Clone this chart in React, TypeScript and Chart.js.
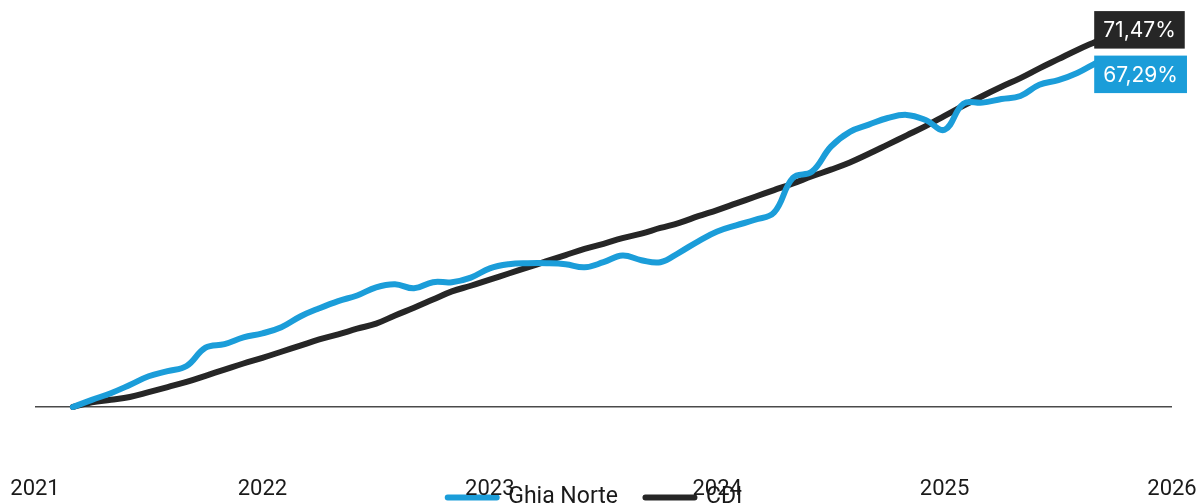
import React, { useEffect, useRef } from "react";
import { Chart, registerables } from "chart.js";

Chart.register(...registerables);

// Month-end dates of each observation
const months = [
  "2021-02", "2021-03", "2021-04", "2021-05", "2021-06", "2021-07", "2021-08", "2021-09", "2021-10", "2021-11", "2021-12",
  "2022-01", "2022-02", "2022-03", "2022-04", "2022-05", "2022-06", "2022-07", "2022-08", "2022-09", "2022-10", "2022-11", "2022-12",
  "2023-01", "2023-02", "2023-03", "2023-04", "2023-05", "2023-06", "2023-07", "2023-08", "2023-09", "2023-10", "2023-11", "2023-12",
  "2024-01", "2024-02", "2024-03", "2024-04", "2024-05", "2024-06", "2024-07", "2024-08", "2024-09", "2024-10", "2024-11", "2024-12",
  "2025-01", "2025-02", "2025-03", "2025-04", "2025-05", "2025-06", "2025-07", "2025-08",
];

// Cumulative return, %
const ghiaNorte = [
  0.0, 1.4, 2.7, 4.3, 6.0, 7.0, 8.0, 11.6, 12.3, 13.6, 14.4,
  15.6, 17.7, 19.3, 20.7, 21.8, 23.4, 24.0, 23.2, 24.4, 24.4, 25.3, 27.1,
  27.9, 28.1, 28.1, 27.9, 27.3, 28.3, 29.6, 28.7, 28.3, 30.2, 32.4, 34.3,
  35.5, 36.6, 38.0, 44.8, 46.0, 50.9, 53.8, 55.2, 56.5, 57.1, 56.1, 54.2,
  59.3, 59.5, 60.2, 60.8, 63.0, 63.9, 65.3, 67.29,
];

const cdi = [
  0.0, 0.9, 1.4, 1.95, 2.9, 3.9, 4.9, 6.1, 7.3, 8.5, 9.6,
  10.8, 12.0, 13.2, 14.2, 15.3, 16.3, 17.9, 19.4, 21.0, 22.6, 23.7, 24.9,
  26.1, 27.3, 28.5, 29.7, 30.9, 31.9, 33.0, 33.9, 35.0, 36.0, 37.3, 38.5,
  39.8, 41.1, 42.4, 43.7, 45.1, 46.4, 47.8, 49.5, 51.3, 53.1, 54.9, 56.9,
  58.9, 60.8, 62.6, 64.3, 66.2, 68.0, 69.8, 71.47,
];

const yearTicks = ["2021", "2022", "2023", "2024", "2025", "2026"];
const seriesNames = ["Ghia Norte", "CDI"];
const seriesColors = ["#1b9dd9", "#262626"];

function monthIndex(m: string): number {
  const [y, mo] = m.split("-").map(Number);
  return (y - 2021) * 12 + mo;
}

const endLabels = {
  id: "endLabels",
  afterDatasetsDraw(chart: any) {
    const ctx = chart.ctx as CanvasRenderingContext2D;
    ctx.save();
    ctx.font = "21px Inter";
    const items = chart.data.datasets.map((ds: any, i: number) => {
      const meta = chart.getDatasetMeta(i);
      const pt = meta.data[meta.data.length - 1];
      const v = ds.data[ds.data.length - 1].y as number;
      const text = v.toFixed(2).replace(".", ",") + "%";
      return { x: pt.x, cy: pt.y, text, color: ds.borderColor };
    });
    items.sort((a: any, b: any) => a.cy - b.cy);
    const h = 37.5;
    const gap = 7;
    for (let i = 1; i < items.length; i++) {
      const a = items[i - 1];
      const b = items[i];
      if (b.cy - a.cy < h + gap) {
        const mid = (a.cy + b.cy) / 2;
        a.cy = mid - (h + gap) / 2;
        b.cy = mid + (h + gap) / 2;
      }
    }
    for (const it of items) {
      const w = ctx.measureText(it.text).width + 18;
      const left = it.x - 2;
      ctx.fillStyle = it.color;
      ctx.fillRect(left, it.cy - h / 2, w, h);
      ctx.fillStyle = "#ffffff";
      ctx.textAlign = "center";
      ctx.textBaseline = "middle";
      ctx.fillText(it.text, left + w / 2, it.cy + 1);
    }
    ctx.restore();
  },
};

// Nudges the legend row a little to the left, as in the reference
const legendShift = {
  id: "legendShift",
  afterLayout(chart: any) {
    const l = chart.legend;
    if (l) {
      l.left -= 8.5;
      l.right -= 8.5;
    }
  },
};

export default function App() {
  const canvasRef = useRef<HTMLCanvasElement | null>(null);

  useEffect(() => {
    if (!canvasRef.current) return;
    Chart.defaults.font.family = "Roboto";
    Chart.defaults.color = "#1a1a1a";
    const series = [ghiaNorte, cdi];
    const chart = new Chart(canvasRef.current, {
      type: "line",
      data: {
        datasets: series.map((vals, i) => ({
          label: seriesNames[i],
          data: vals.map((v, k) => ({ x: monthIndex(months[k]), y: v })),
          borderColor: seriesColors[i],
          backgroundColor: seriesColors[i],
          borderWidth: 6,
          borderCapStyle: "round" as const,
          borderJoinStyle: "round" as const,
          pointRadius: 0,
          pointHoverRadius: 0,
          tension: 0.4,
          fill: false,
        })),
      },
      options: {
        responsive: false,
        animation: false,
        devicePixelRatio: 1,
        layout: { padding: { left: 27, right: 30, top: 0, bottom: 0 } },
        plugins: {
          legend: {
            position: "bottom",
            labels: {
              font: { family: "Roboto", size: 23 },
              color: "#1a1a1a",
              boxWidth: 49,
              boxHeight: 0,
              padding: 27.5,
            },
          },
          tooltip: { enabled: false },
        },
        scales: {
          x: {
            type: "linear",
            min: 0,
            max: 60,
            grid: { display: false },
            border: { display: false },
            ticks: {
              stepSize: 12,
              mirror: true,
              padding: -44.2,
              autoSkip: false,
              maxRotation: 0,
              font: { family: "Roboto", size: 22 },
              color: "#1a1a1a",
              callback: (v: any) => yearTicks[Math.round(Number(v) / 12)] ?? "",
            },
            afterFit: (s: any) => {
              s.height = 0;
            },
          },
          y: {
            min: -10.07,
            max: 78,
            border: { display: false },
            grid: {
              drawTicks: false,
              lineWidth: 1.5,
              color: (c: any) => (c.tick && c.tick.value === 0 ? "#4a4a4a" : "rgba(0,0,0,0)"),
            },
            ticks: { display: false, stepSize: 10 },
          },
        },
      },
      plugins: [endLabels, legendShift],
    });
    return () => chart.destroy();
  }, []);

  return (
    <div style={{ position: "absolute", left: 8, top: 8, width: 1194, height: 496, overflow: "hidden" }}>
      <canvas ref={canvasRef} width={1194} height={511} style={{ display: "block" }} />
    </div>
  );
}
